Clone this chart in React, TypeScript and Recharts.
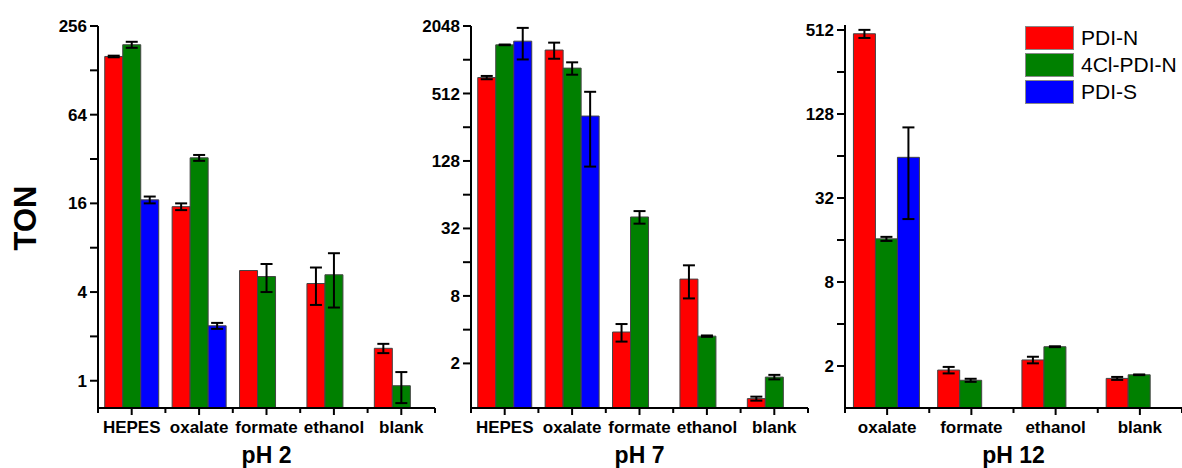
import React from 'react';
import { BarChart, Bar, XAxis, YAxis, ErrorBar, Legend, Label } from 'recharts';

const FONT = 'Arial, "Liberation Sans", Helvetica, sans-serif';
const RED = '#ff0000';
const GREEN = '#008000';
const BLUE = '#0000ff';

// ---- pH 2 ----
const catsPH2 = ['HEPES', 'oxalate', 'formate', 'ethanol', 'blank'];
const pdiN_pH2 = [159, 15.2, 5.6, 4.57, 1.66];
const pdiN_pH2_sd = [2, 0.8, null, 1.3, 0.12];
const cl_pH2 = [191, 32.6, 5.1, 5.24, 0.925];
const cl_pH2_sd = [9, 1.5, 1.1, 2.1, 0.22];
const pdiS_pH2 = [16.9, 2.36, null, null, null];
const pdiS_pH2_sd = [0.9, 0.11, null, null, null];
const ticksPH2 = [1, 2, 4, 8, 16, 32, 64, 128, 256];
const labelsPH2 = [1, 4, 16, 64, 256];

// ---- pH 7 ----
const catsPH7 = ['HEPES', 'oxalate', 'formate', 'ethanol', 'blank'];
const pdiN_pH7 = [710, 1250, 3.81, 11.3, 0.97];
const pdiN_pH7_sd = [24, 205, 0.68, 3.7, 0.04];
const cl_pH7 = [1390, 862, 40.5, 3.5, 1.51];
const cl_pH7_sd = [10, 109, 5.2, 0.05, 0.07];
const pdiS_pH7 = [1500, 322, null, null, null];
const pdiS_pH7_sd = [470, 208, null, null, null];
const ticksPH7 = [2, 4, 8, 16, 32, 64, 128, 256, 512, 1024, 2048];
const labelsPH7 = [2, 8, 32, 128, 512, 2048];

// ---- pH 12 ----
const catsPH12 = ['oxalate', 'formate', 'ethanol', 'blank'];
const pdiN_pH12 = [481, 1.87, 2.21, 1.63];
const pdiN_pH12_sd = [32, 0.1, 0.12, 0.04];
const cl_pH12 = [16.3, 1.58, 2.75, 1.73];
const cl_pH12_sd = [0.55, 0.04, 0.02, 0.01];
const pdiS_pH12 = [62.6, null, null, null];
const pdiS_pH12_sd = [40, null, null, null];
const ticksPH12 = [2, 4, 8, 16, 32, 64, 128, 256, 512];
const labelsPH12 = [2, 8, 32, 128, 512];

const seriesNames = ['PDI-N', '4Cl-PDI-N', 'PDI-S'];

function buildRows(cats: string[], a: any[], aE: any[], b: any[], bE: any[], c: any[], cE: any[]) {
  return cats.map((cat, i) => ({ cat, n: a[i], nE: aE[i], cl: b[i], clE: bE[i], s: c[i], sE: cE[i] }));
}

const dataPH2 = buildRows(catsPH2, pdiN_pH2, pdiN_pH2_sd, cl_pH2, cl_pH2_sd, pdiS_pH2, pdiS_pH2_sd);
const dataPH7 = buildRows(catsPH7, pdiN_pH7, pdiN_pH7_sd, cl_pH7, cl_pH7_sd, pdiS_pH7, pdiS_pH7_sd);
const dataPH12 = buildRows(catsPH12, pdiN_pH12, pdiN_pH12_sd, cl_pH12, cl_pH12_sd, pdiS_pH12, pdiS_pH12_sd);

const XTick = (props: any) => {
  const { x, y, payload, index, cw, n } = props;
  return (
    <g>
      <line x1={x} y1={y} x2={x} y2={y + 7} stroke="#000" strokeWidth={2} />
      <line x1={x - cw / 2} y1={y} x2={x - cw / 2} y2={y + 5} stroke="#000" strokeWidth={2} />
      {index === n - 1 && (
        <line x1={x + cw / 2} y1={y} x2={x + cw / 2} y2={y + 5} stroke="#000" strokeWidth={2} />
      )}
      <text x={x} y={y + 25} textAnchor="middle" fontFamily={FONT} fontWeight="bold" fontSize={17} fill="#000">
        {payload.value}
      </text>
    </g>
  );
};

const renderLegend = (props: any) => {
  const payload = [...(props.payload || [])].sort(
    (a: any, b: any) => seriesNames.indexOf(a.value) - seriesNames.indexOf(b.value)
  );
  return (
    <div style={{ fontFamily: FONT }}>
      {payload.map((item: any, i: number) => (
        <div key={i} style={{ display: 'flex', alignItems: 'center', height: 24, marginBottom: 3 }}>
          <div
            style={{
              width: 49,
              height: 24,
              background: item.color,
              border: '1px solid #888',
              boxSizing: 'border-box',
            }}
          />
          <span style={{ marginLeft: 7, fontSize: 21, lineHeight: '24px', color: '#000' }}>{item.value}</span>
        </div>
      ))}
    </div>
  );
};

type PanelProps = {
  left: number;
  width: number;
  yAxisWidth: number;
  rightMargin: number;
  top: number;
  data: any[];
  domain: [number, number];
  ticks: number[];
  labels: number[];
  title: string;
  showTON?: boolean;
  showLegend?: boolean;
};

function Panel(p: PanelProps) {
  const plotW = p.width - p.yAxisWidth - p.rightMargin;
  const cw = plotW / p.data.length;
  const n = p.data.length;
  const barProps = { stroke: '#444', strokeWidth: 1, isAnimationActive: false };
  const errProps = { width: 6, strokeWidth: 2, stroke: '#000', isAnimationActive: false };
  return (
    <div style={{ position: 'absolute', left: p.left, top: 0 }}>
      <BarChart
        width={p.width}
        height={468}
        data={p.data}
        margin={{ top: p.top, right: p.rightMargin, bottom: 0, left: 0 }}
        barCategoryGap="10%"
        barGap={0}
        style={{ overflow: 'visible' }}
      >
        <XAxis
          dataKey="cat"
          height={60}
          axisLine={{ stroke: '#000', strokeWidth: 2 }}
          tickLine={false}
          tickSize={0}
          tickMargin={0}
          interval={0}
          tick={(tp: any) => <XTick {...tp} cw={cw} n={n} />}
        >
          <Label
            content={(lp: any) => {
              const vb = lp.viewBox || {};
              return (
                <text
                  x={vb.x + vb.width / 2}
                  y={vb.y + vb.height - 5}
                  textAnchor="middle"
                  fontFamily={FONT}
                  fontWeight="bold"
                  fontSize={23}
                  fill="#000"
                >
                  {p.title}
                </text>
              );
            }}
          />
        </XAxis>
        <YAxis
          type="number"
          scale="log"
          domain={p.domain}
          allowDataOverflow
          ticks={p.ticks}
          interval={0}
          width={p.yAxisWidth}
          axisLine={{ stroke: '#000', strokeWidth: 2 }}
          tickLine={{ stroke: '#000', strokeWidth: 2 }}
          tickSize={8}
          tickMargin={3}
          tick={{ fill: '#000', fontSize: 17, fontWeight: 'bold', fontFamily: FONT }}
          tickFormatter={(v: number) => (p.labels.includes(v) ? String(v) : '')}
        >
          {p.showTON && (
            <Label
              content={() => (
                <text
                  transform="translate(25,218) rotate(-90)"
                  textAnchor="middle"
                  dominantBaseline="central"
                  fontFamily={FONT}
                  fontWeight="bold"
                  fontSize={31}
                  fill="#000"
                >
                  TON
                </text>
              )}
            />
          )}
        </YAxis>
        <Bar dataKey="n" name={seriesNames[0]} fill={RED} {...barProps}>
          <ErrorBar dataKey="nE" {...errProps} />
        </Bar>
        <Bar dataKey="cl" name={seriesNames[1]} fill={GREEN} {...barProps}>
          <ErrorBar dataKey="clE" {...errProps} />
        </Bar>
        <Bar dataKey="s" name={seriesNames[2]} fill={BLUE} {...barProps}>
          <ErrorBar dataKey="sE" {...errProps} />
        </Bar>
        {p.showLegend && (
          <Legend
            layout="vertical"
            align="center"
            verticalAlign="middle"
            wrapperStyle={{ left: 235, top: 26, width: 157, height: 82 }}
            content={renderLegend}
          />
        )}
      </BarChart>
    </div>
  );
}

export default function App() {
  return (
    <div
      style={{
        position: 'absolute',
        left: 0,
        top: 0,
        width: 1182,
        height: 468,
        background: '#fff',
        overflow: 'hidden',
      }}
    >
      <Panel
        left={0}
        width={440}
        yAxisWidth={98}
        rightMargin={5}
        top={26}
        data={dataPH2}
        domain={[0.653, 256]}
        ticks={ticksPH2}
        labels={labelsPH2}
        title="pH 2"
        showTON
      />
      <Panel
        left={400}
        width={413}
        yAxisWidth={71}
        rightMargin={5}
        top={26}
        data={dataPH7}
        domain={[0.8, 2048]}
        ticks={ticksPH7}
        labels={labelsPH7}
        title="pH 7"
      />
      <Panel
        left={790}
        width={392}
        yAxisWidth={55}
        rightMargin={0}
        top={25}
        data={dataPH12}
        domain={[1, 556]}
        ticks={ticksPH12}
        labels={labelsPH12}
        title="pH 12"
        showLegend
      />
    </div>
  );
}
